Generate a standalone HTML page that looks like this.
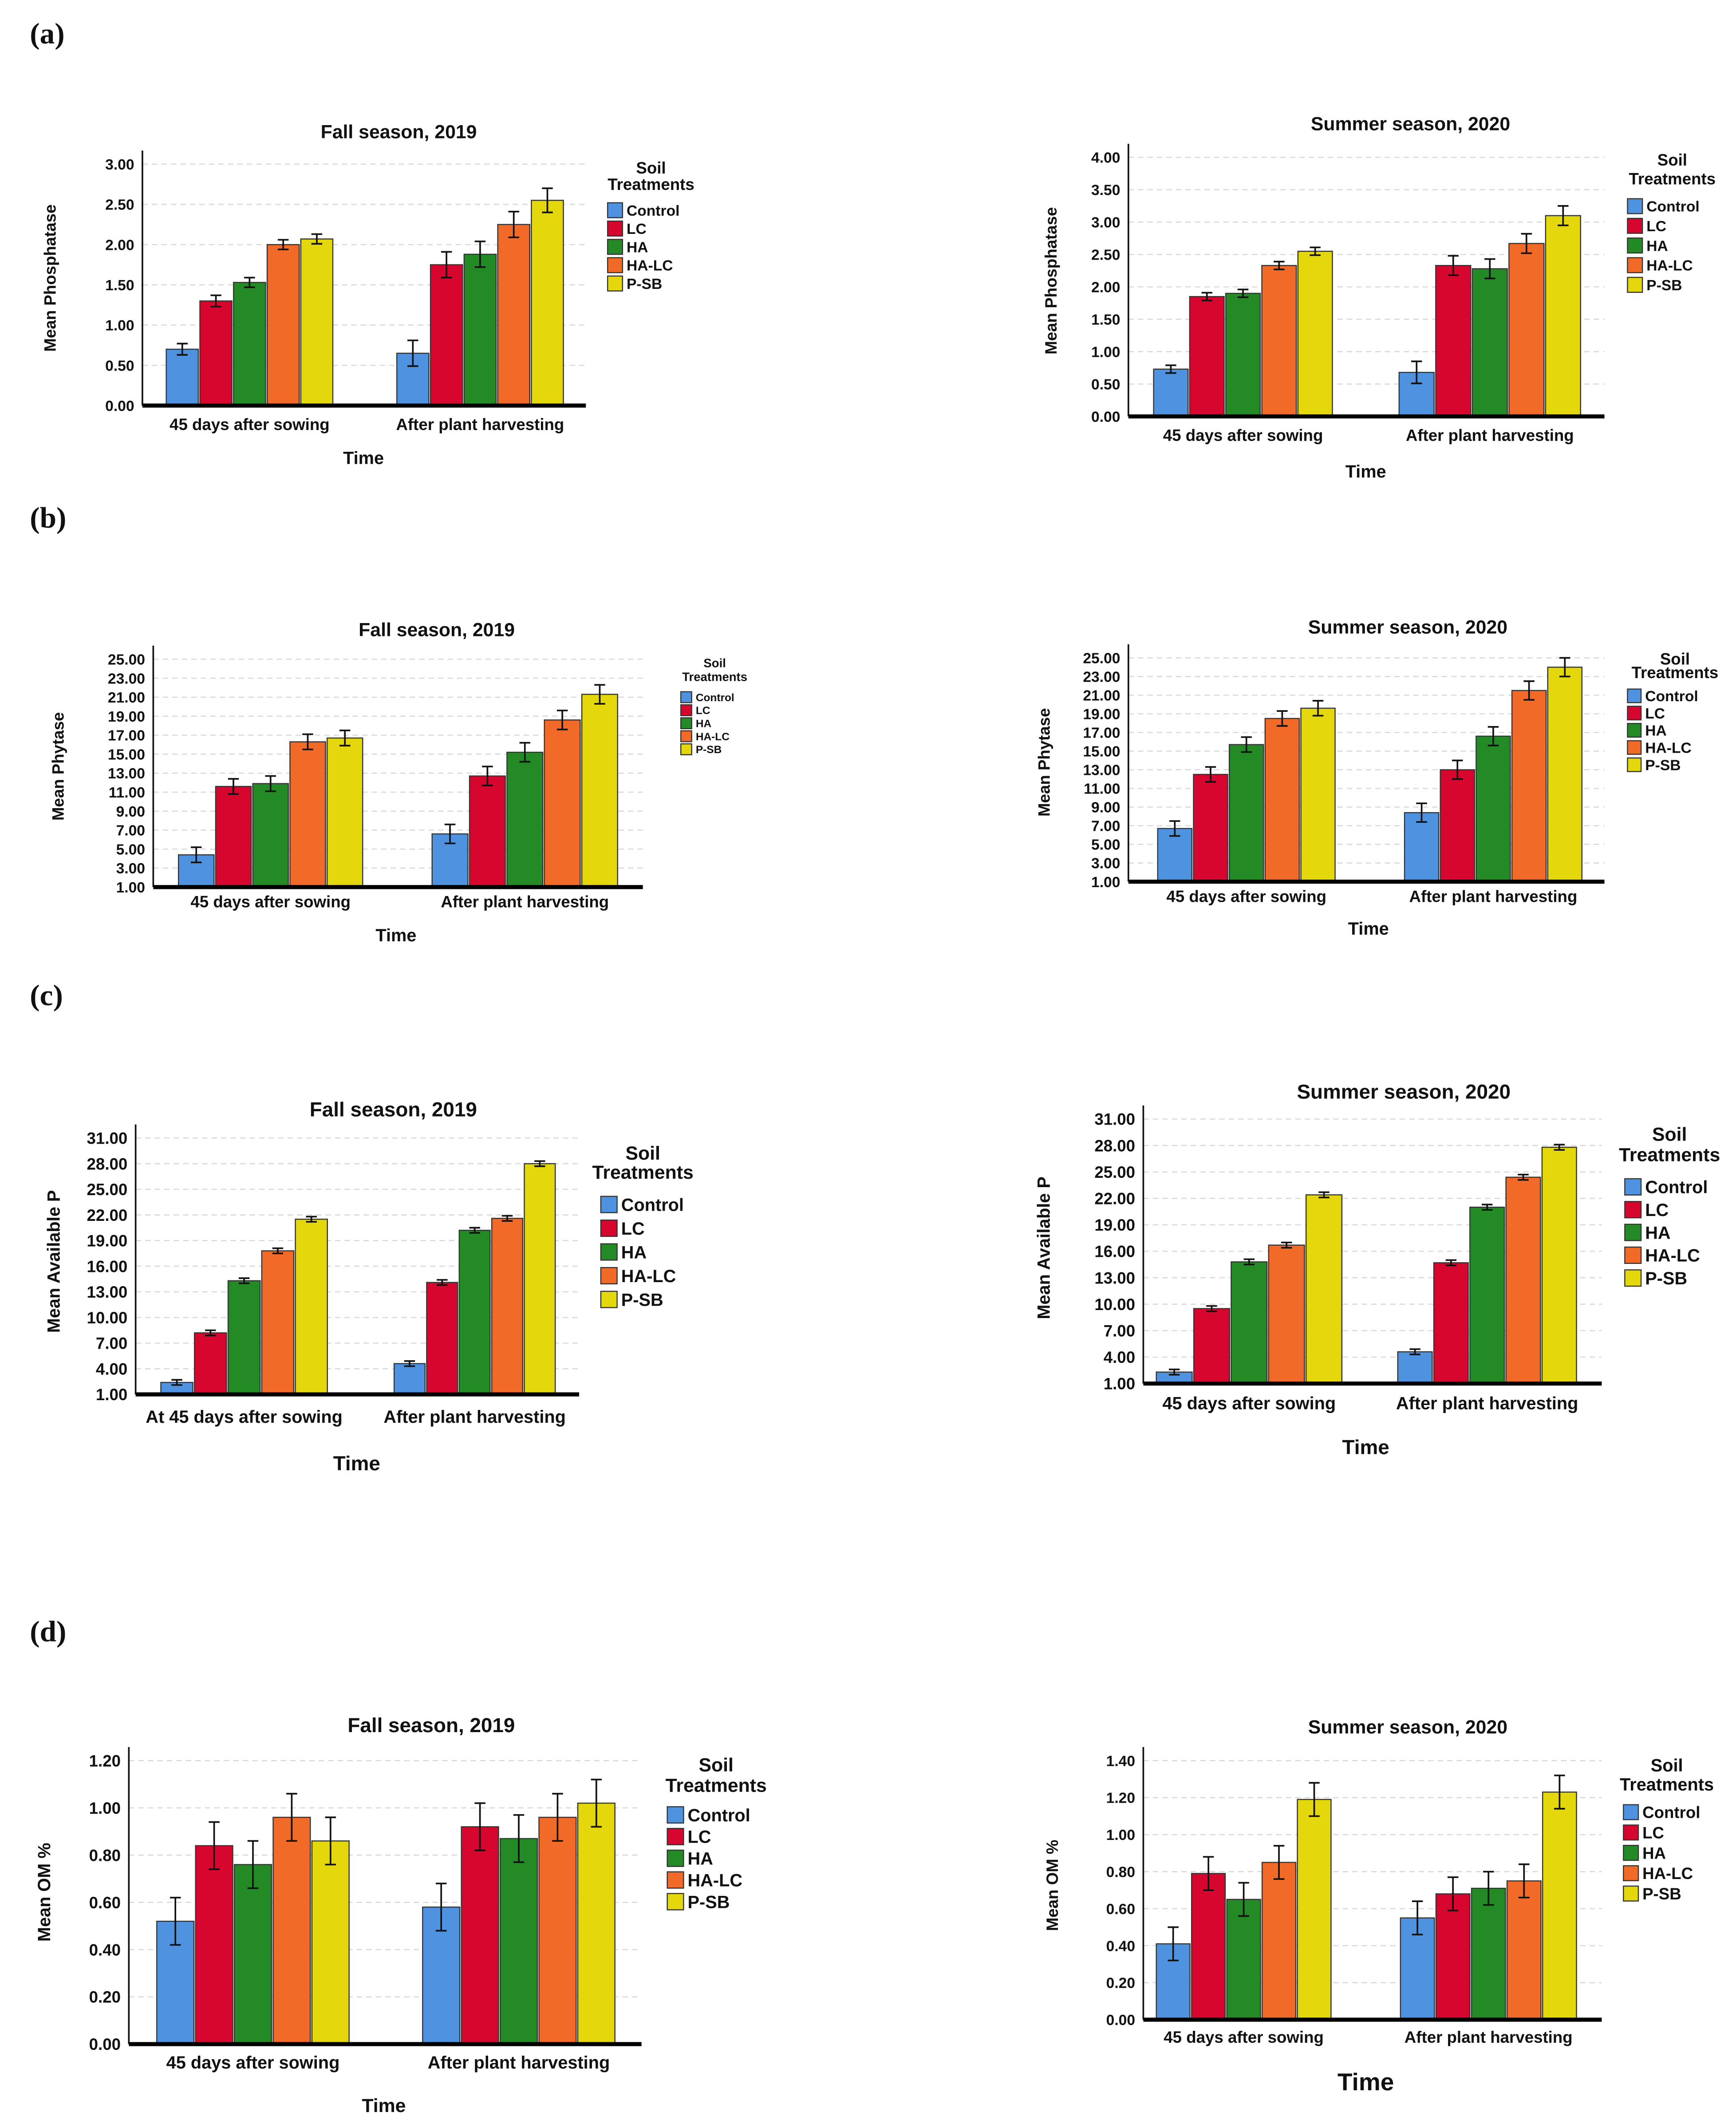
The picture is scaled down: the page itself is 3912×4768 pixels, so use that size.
<!DOCTYPE html>
<html><head><meta charset="utf-8"><title>Soil treatment charts</title>
<style>
html,body{margin:0;padding:0;background:#fff;}
svg{display:block;}
text{font-family:"Liberation Sans Narrow","Liberation Sans",sans-serif;font-weight:bold;fill:#111;}
.pl{font-family:"Liberation Serif",serif;font-size:22px;}
</style></head>
<body>
<svg id="root" width="3912" height="4768" viewBox="0 0 1280 1560" preserveAspectRatio="none" xmlns="http://www.w3.org/2000/svg">
<text class="pl" x="22" y="32">(a)</text>
<text class="pl" x="22" y="389">(b)</text>
<text class="pl" x="22" y="741">(c)</text>
<text class="pl" x="22" y="1210">(d)</text>
</svg>
<script>
const categories = ["45 days after sowing","After plant harvesting"];
const categoriesC = ["At 45 days after sowing","After plant harvesting"];
const treatments = ["Control","LC","HA","HA-LC","P-SB"];
const colors = ["#4f93e0","#d7062e","#238a25","#f26a28","#e4d70b"];

const aFallMeans = [[0.70,1.30,1.53,2.00,2.07],[0.65,1.75,1.88,2.25,2.55]];
const aFallErr = [[0.07,0.07,0.06,0.06,0.06],[0.16,0.16,0.16,0.16,0.15]];
const aSumMeans = [[0.73,1.85,1.90,2.33,2.55],[0.68,2.33,2.28,2.67,3.10]];
const aSumErr = [[0.06,0.06,0.06,0.06,0.06],[0.17,0.15,0.15,0.15,0.15]];
const bFallMeans = [[4.4,11.6,11.9,16.3,16.7],[6.6,12.7,15.2,18.6,21.3]];
const bFallErr = [[0.8,0.8,0.8,0.8,0.8],[1.0,1.0,1.0,1.0,1.0]];
const bSumMeans = [[6.7,12.5,15.7,18.5,19.6],[8.4,13.0,16.6,21.5,24.0]];
const bSumErr = [[0.8,0.8,0.8,0.8,0.8],[1.0,1.0,1.0,1.0,1.0]];
const cFallMeans = [[2.4,8.2,14.3,17.8,21.5],[4.6,14.1,20.2,21.6,28.0]];
const cFallErr = [[0.3,0.3,0.3,0.3,0.3],[0.3,0.3,0.3,0.3,0.3]];
const cSumMeans = [[2.3,9.5,14.8,16.7,22.4],[4.6,14.7,21.0,24.4,27.8]];
const cSumErr = [[0.3,0.3,0.3,0.3,0.3],[0.3,0.3,0.3,0.3,0.3]];
const dFallMeans = [[0.52,0.84,0.76,0.96,0.86],[0.58,0.92,0.87,0.96,1.02]];
const dFallErr = [[0.10,0.10,0.10,0.10,0.10],[0.10,0.10,0.10,0.10,0.10]];
const dSumMeans = [[0.41,0.79,0.65,0.85,1.19],[0.55,0.68,0.71,0.75,1.23]];
const dSumErr = [[0.09,0.09,0.09,0.09,0.09],[0.09,0.09,0.09,0.09,0.09]];

const ticksA1 = [0,0.5,1,1.5,2,2.5,3];
const ticksA2 = [0,0.5,1,1.5,2,2.5,3,3.5,4];
const ticksB = [1,3,5,7,9,11,13,15,17,19,21,23,25];
const ticksC = [1,4,7,10,13,16,19,22,25,28,31];
const ticksD1 = [0,0.2,0.4,0.6,0.8,1.0,1.2];
const ticksD2 = [0,0.2,0.4,0.6,0.8,1.0,1.2,1.4];

const NS="http://www.w3.org/2000/svg";
const root=document.getElementById('root');
function mk(tag,attrs,parent){const e=document.createElementNS(NS,tag);for(const k in attrs)e.setAttribute(k,attrs[k]);(parent||root).appendChild(e);return e;}

function chart(c){
  const g=mk('g',{});
  
  
  const t0=c.ticks[0], t1=c.ticks[c.ticks.length-1];
  const y=v=>c.yb-(v-t0)/(t1-t0)*(c.yb-c.yt);
  // grid + ticks
  c.ticks.forEach(t=>{
    if(t!==t0){const gl=mk('line',{x1:c.ax,x2:c.ae,y1:y(t),y2:y(t),stroke:'#d8d8d8','stroke-width':0.8,'stroke-dasharray':'4 3'},g);
      
      }
    const tl=mk('text',{x:c.ax-6,y:y(t)+c.fs*0.36,'text-anchor':'end','font-size':c.fs},g);
    tl.textContent=t.toFixed(2);
    
    
  });
  // bars
  c.means.forEach((grp,gi)=>{
    const x0=c.groups[gi][0], x1=c.groups[gi][1], bw=(x1-x0)/treatments.length;
    grp.forEach((v,i)=>{
      const r=mk('rect',{x:x0+i*bw+0.6,y:y(v),width:bw-1.2,height:y(t0)-y(v),fill:colors[i],stroke:'#333','stroke-width':0.8},g);
      
      
      const e=c.err[gi][i], cx=x0+i*bw+bw/2;
      const eb=mk('path',{d:`M${cx-4},${y(v+e)}H${cx+4}M${cx},${y(v+e)}V${y(v-e)}M${cx-4},${y(v-e)}H${cx+4}`,stroke:'#111','stroke-width':1.2,fill:'none'},g);
      
      
    });
    const xl=mk('text',{x:(x0+x1)/2,y:c.xly,'text-anchor':'middle','font-size':c.fs+1},g);
    xl.textContent=c.cats[gi];
    
    
  });
  // axes
  const ya=mk('line',{x1:c.ax,x2:c.ax,y1:c.yt-10,y2:c.yb,stroke:'#111','stroke-width':1.2},g);
  
  
  const xa=mk('line',{x1:c.ax,x2:c.ae,y1:c.yb,y2:c.yb,stroke:'#000','stroke-width':3},g);
  
  
  // titles
  const tt=mk('text',{x:c.title[0],y:c.title[1],'text-anchor':'middle','font-size':c.fs+3},g);
  tt.textContent=c.titleText;
  
  
  const yt=mk('text',{x:0,y:0,'text-anchor':'middle','font-size':c.fs+1,transform:`translate(${c.ytl[0]},${c.ytl[1]}) rotate(-90)`},g);
  yt.textContent=c.yTitle;
  
  
  const xt=mk('text',{x:c.xt[0],y:c.xt[1],'text-anchor':'middle','font-size':c.xtfs||c.fs+2},g);
  xt.textContent='Time';
  
  
  // legend
  const L=c.leg;
  const s1=mk('text',{x:L.cx,y:L.y1,'text-anchor':'middle','font-size':L.fs+1},g);
  s1.textContent='Soil';
  
  
  const s2=mk('text',{x:L.cx,y:L.y2,'text-anchor':'middle','font-size':L.fs+1},g);
  s2.textContent='Treatments';
  
  
  treatments.forEach((n,i)=>{
    const yy=L.ys+i*L.dy;
    const sq=mk('rect',{x:L.x,y:yy-L.sq/2,width:L.sq,height:L.sq,fill:colors[i],stroke:'#333','stroke-width':0.8},g);
    
    
    const lt=mk('text',{x:L.x+L.sq+3,y:yy+L.fs*0.36,'font-size':L.fs},g);
    lt.textContent=n;
    
    
  });
}

chart({name:'chart-a-fall',means:aFallMeans,err:aFallErr,ticks:ticksA1,ax:105,ae:432,yb:299,yt:121,groups:[[122,246],[292,416]],cats:categories,xly:317,fs:11,title:[294,102],titleText:'Fall season, 2019',yTitle:'Mean Phosphatase',ytl:[41,205],xt:[268,342],leg:{cx:480,y1:128,y2:140,x:448,ys:155,dy:13.5,sq:11,fs:11}});
chart({name:'chart-a-summer',means:aSumMeans,err:aSumErr,ticks:ticksA2,ax:832,ae:1183,yb:307,yt:116,groups:[[850,983],[1031,1166]],cats:categories,xly:325,fs:11,title:[1040,96],titleText:'Summer season, 2020',yTitle:'Mean Phosphatase',ytl:[779,207],xt:[1007,352],leg:{cx:1233,y1:122,y2:136,x:1200,ys:152,dy:14.5,sq:11,fs:11}});
chart({name:'chart-b-fall',means:bFallMeans,err:bFallErr,ticks:ticksB,ax:113,ae:474,yb:654,yt:486,groups:[[131,268],[318,456]],cats:categories,xly:669,fs:11,title:[322,469],titleText:'Fall season, 2019',yTitle:'Mean Phytase',ytl:[47,565],xt:[292,694],leg:{cx:527,y1:492,y2:502,x:502,ys:514,dy:9.6,sq:8,fs:8}});
chart({name:'chart-b-summer',means:bSumMeans,err:bSumErr,ticks:ticksB,ax:832,ae:1183,yb:650,yt:485,groups:[[853,985],[1035,1167]],cats:categories,xly:665,fs:11,title:[1038,467],titleText:'Summer season, 2020',yTitle:'Mean Phytase',ytl:[774,562],xt:[1009,689],leg:{cx:1235,y1:490,y2:500,x:1200,ys:513,dy:12.7,sq:10,fs:11}});
chart({name:'chart-c-fall',means:cFallMeans,err:cFallErr,ticks:ticksC,ax:100,ae:427,yb:1028,yt:839,groups:[[118,242],[290,410]],cats:categoriesC,xly:1049,fs:12,title:[290,823],titleText:'Fall season, 2019',yTitle:'Mean Available P',ytl:[44,930],xt:[263,1084],xtfs:15,leg:{cx:474,y1:855,y2:869,x:443,ys:888,dy:17.5,sq:12,fs:13}});
chart({name:'chart-c-summer',means:cSumMeans,err:cSumErr,ticks:ticksC,ax:843,ae:1181,yb:1020,yt:825,groups:[[852,990],[1030,1163]],cats:categories,xly:1039,fs:12,title:[1035,810],titleText:'Summer season, 2020',yTitle:'Mean Available P',ytl:[774,920],xt:[1007,1072],xtfs:15,leg:{cx:1231,y1:841,y2:856,x:1198,ys:875,dy:16.8,sq:12,fs:13}});
chart({name:'chart-d-fall',means:dFallMeans,err:dFallErr,ticks:ticksD1,ax:95,ae:473,yb:1507,yt:1298,groups:[[115,258],[311,454]],cats:categories,xly:1525,fs:12,title:[318,1277],titleText:'Fall season, 2019',yTitle:'Mean OM %',ytl:[37,1395],xt:[283,1557],xtfs:14,leg:{cx:528,y1:1306,y2:1321,x:492,ys:1338,dy:16,sq:12,fs:13}});
chart({name:'chart-d-summer',means:dSumMeans,err:dSumErr,ticks:ticksD2,ax:843,ae:1181,yb:1489,yt:1298,groups:[[852,982],[1032,1163]],cats:categories,xly:1506,fs:11,title:[1038,1278],titleText:'Summer season, 2020',yTitle:'Mean OM %',ytl:[780,1390],xt:[1007,1541],xtfs:18,leg:{cx:1229,y1:1306,y2:1320,x:1197,ys:1336,dy:15,sq:11,fs:12}});
</script>
</body></html>
